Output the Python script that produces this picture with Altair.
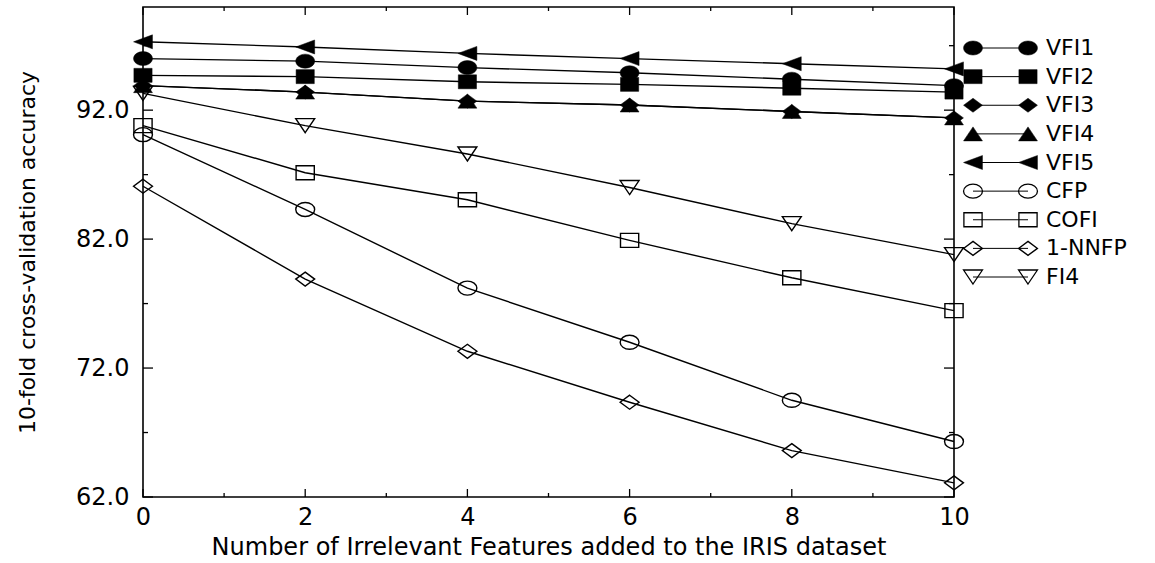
import altair as alt
import pandas as pd

# Accuracy (%) of each classifier vs. number of irrelevant features added to IRIS
n_features = [0, 2, 4, 6, 8, 10]
series_names = ["VFI1", "VFI2", "VFI3", "VFI4", "VFI5", "CFP", "COFI", "1-NNFP", "FI4"]
filled_names = ["VFI1", "VFI2", "VFI3", "VFI4", "VFI5"]

vfi1 = [96.0, 95.8, 95.3, 94.9, 94.4, 93.9]
vfi2 = [94.7, 94.6, 94.2, 94.0, 93.7, 93.4]
vfi3 = [93.9, 93.4, 92.7, 92.4, 91.9, 91.4]
vfi4 = [93.9, 93.4, 92.7, 92.4, 91.9, 91.4]
vfi5 = [97.3, 96.9, 96.4, 96.0, 95.6, 95.2]
cfp = [90.1, 84.3, 78.2, 74.0, 69.5, 66.3]
cofi = [90.8, 87.15, 85.05, 81.9, 79.0, 76.45]
nnfp = [86.1, 78.9, 73.3, 69.35, 65.6, 63.1]
fi4 = [93.3, 90.8, 88.6, 86.0, 83.2, 80.8]

y_label_values = [62, 72, 82, 92]
y_minor_values = [67, 77, 87, 97]
x_label_values = [0, 2, 4, 6, 8, 10]
x_minor_values = [1, 3, 5, 7, 9]

all_series = [vfi1, vfi2, vfi3, vfi4, vfi5, cfp, cofi, nnfp, fi4]
rows = []
for name, vals in zip(series_names, all_series):
    for n, v in zip(n_features, vals):
        rows.append({"series": name, "n": n, "acc": v})
df = pd.DataFrame(rows)

# Marker outlines, slightly widened ellipses / polygons in the unit box
shape_paths = [
    "M-1.35,0A1.35,1,0,1,1,1.35,0A1.35,1,0,1,1,-1.35,0Z",   # circle
    "M-1.3,-1H1.3V1H-1.3Z",                                  # square
    "M0,-1L1.35,0L0,1L-1.35,0Z",                             # diamond
    "M0,-1L1.35,1H-1.35Z",                                   # triangle up
    "M-1.35,0L1.35,-1V1Z",                                   # triangle left
    "M-1.35,0A1.35,1,0,1,1,1.35,0A1.35,1,0,1,1,-1.35,0Z",   # circle
    "M-1.3,-1H1.3V1H-1.3Z",                                  # square
    "M0,-1L1.35,0L0,1L-1.35,0Z",                             # diamond
    "M0,1L1.35,-1H-1.35Z",                                   # triangle down
]

W, H = 811, 490
FONT = "DejaVu Sans"
SYM = 196

xscale = alt.Scale(domain=[0, 10], nice=False, zero=False)
yscale = alt.Scale(domain=[62, 100], nice=False, zero=False)
shape_enc = alt.Shape("series:N", scale=alt.Scale(domain=series_names, range=shape_paths), legend=None)

x_axis = alt.Axis(values=x_label_values, format="d", ticks=False, domain=False, grid=False,
                  labelFlush=False, labelFontSize=24, labelPadding=8, labelFont=FONT,
                  labelColor="black",
                  title="Number of Irrelevant Features added to the IRIS dataset",
                  titleFontSize=24, titleFont=FONT, titleFontWeight="normal",
                  titleColor="black", titlePadding=6)
y_axis = alt.Axis(values=y_label_values, format=".1f", ticks=False, domain=False, grid=False,
                  labelFlush=False, labelFontSize=24, labelPadding=14, labelFont=FONT,
                  labelColor="black",
                  title="10-fold cross-validation accuracy",
                  titleFontSize=22, titleFont=FONT, titleFontWeight="normal",
                  titleColor="black", titlePadding=36)

X = alt.X("n:Q", scale=xscale, axis=x_axis)
Y = alt.Y("acc:Q", scale=yscale, axis=y_axis)

base = alt.Chart(df)
lines = base.mark_line(color="black", strokeWidth=1.4).encode(
    x=X, y=Y, detail="series:N", order="n:Q")
pts_filled = base.transform_filter(
    alt.FieldOneOfPredicate(field="series", oneOf=filled_names)
).mark_point(filled=True, fill="black", stroke="black", strokeWidth=0.5, opacity=1, size=SYM).encode(
    x=X, y=Y, shape=shape_enc)
pts_open = base.transform_filter(
    ~alt.FieldOneOfPredicate(field="series", oneOf=filled_names)
).mark_point(filled=False, stroke="black", strokeWidth=1.4, opacity=1, size=SYM).encode(
    x=X, y=Y, shape=shape_enc)

# Inward-pointing tick marks on all four sides of the frame
def yticks(values, length):
    d = pd.DataFrame({"acc": values})
    left = alt.Chart(d).mark_rule(color="black", strokeWidth=1.3).encode(
        y=Y, x=alt.value(0), x2=alt.value(length))
    right = alt.Chart(d).mark_rule(color="black", strokeWidth=1.3).encode(
        y=Y, x=alt.value(W), x2=alt.value(W - length))
    return [left, right]

def xticks(values, length):
    d = pd.DataFrame({"n": values})
    bottom = alt.Chart(d).mark_rule(color="black", strokeWidth=1.3).encode(
        x=X, y=alt.value(H), y2=alt.value(H - length))
    top = alt.Chart(d).mark_rule(color="black", strokeWidth=1.3).encode(
        x=X, y=alt.value(0), y2=alt.value(length))
    return [bottom, top]

tick_layers = (yticks(y_label_values, 10) + yticks(y_minor_values, 5)
               + xticks(x_label_values, 8) + xticks(x_minor_values, 4))

plot = alt.layer(lines, *tick_layers, pts_open, pts_filled)

# Legend drawn beside the frame: symbol - line - symbol, then the name
leg_df = pd.DataFrame({"series": series_names})
LY = alt.Y("series:N", scale=alt.Scale(type="point", domain=series_names, range=[41, 270], padding=0), axis=None)
leg_base = alt.Chart(leg_df)
leg_line = leg_base.mark_rule(color="black", strokeWidth=1).encode(
    y=LY, x=alt.value(830), x2=alt.value(885))
leg_open = []
leg_filled = []
for xpos in (830, 885):
    leg_filled.append(leg_base.transform_filter(
        alt.FieldOneOfPredicate(field="series", oneOf=filled_names)
    ).mark_point(filled=True, fill="black", stroke="black", strokeWidth=0.5, opacity=1, size=SYM).encode(
        y=LY, x=alt.value(xpos), shape=shape_enc))
    leg_open.append(leg_base.transform_filter(
        ~alt.FieldOneOfPredicate(field="series", oneOf=filled_names)
    ).mark_point(filled=False, stroke="black", strokeWidth=1.3, opacity=1, size=SYM).encode(
        y=LY, x=alt.value(xpos), shape=shape_enc))
leg_text = leg_base.mark_text(align="left", baseline="middle", font=FONT, fontSize=22,
                              color="black").encode(
    y=LY, x=alt.value(903), text="series:N")
legend = alt.layer(leg_line, *leg_open, *leg_filled, leg_text)

chart = alt.layer(plot, legend).resolve_scale(y="independent").properties(
    width=W, height=H,
    autosize=alt.AutoSizeParams(type="none"),
    padding={"left": 143, "top": 7, "right": 1155 - 143 - W, "bottom": 563 - 7 - H},
    background="white",
).configure_view(stroke="black", strokeWidth=1.6)

chart.save("out.html", embed_options={"renderer": "svg", "actions": False})
